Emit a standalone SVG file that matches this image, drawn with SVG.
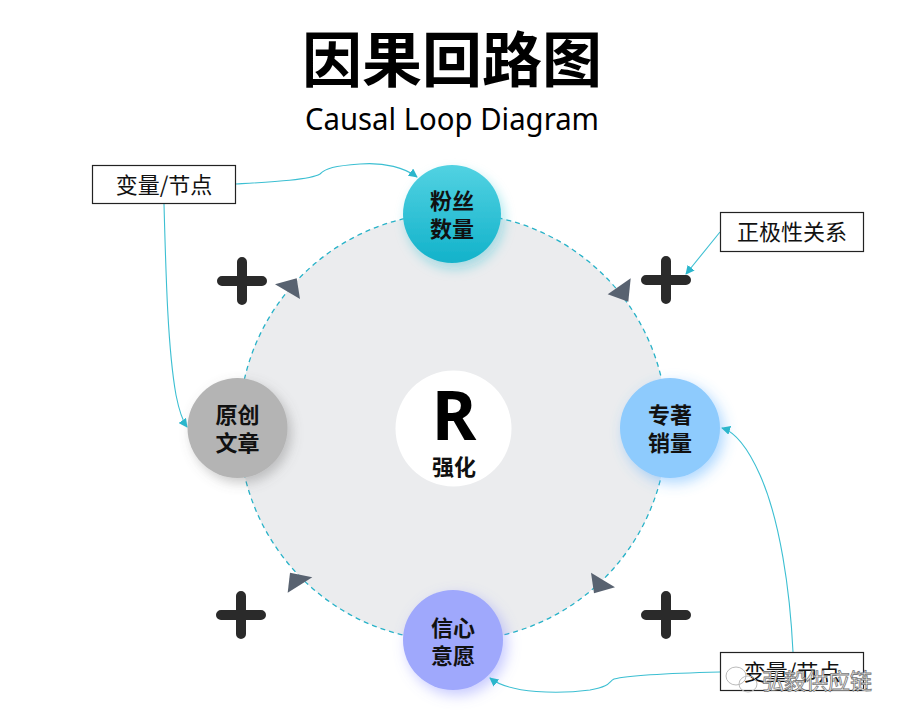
<svg xmlns="http://www.w3.org/2000/svg" width="906" height="721" viewBox="0 0 906 721">
<style>
.cjk{font-family:"Noto Sans CJK SC","Noto Sans",sans-serif}
.node{font-family:"Noto Sans CJK SC",sans-serif;font-weight:bold;font-size:22px;fill:#111;text-anchor:middle}
.box{fill:#fff;stroke:#222;stroke-width:1.2}
.boxt{font-family:"Noto Sans CJK SC",sans-serif;font-size:22px;fill:#111;text-anchor:middle}
.conn{fill:none;stroke:#3cbfd2;stroke-width:1.1}
.plus{stroke:#2a2a2a;stroke-width:10;stroke-linecap:round}
.tri{fill:#586270}
</style>
<defs>
<linearGradient id="gTeal" x1="0" y1="0" x2="0" y2="1">
<stop offset="0" stop-color="#52d2e2"/>
<stop offset="1" stop-color="#12b2ca"/>
</linearGradient>
<filter id="shTeal" x="-50%" y="-50%" width="200%" height="200%"><feDropShadow dx="3" dy="6" stdDeviation="6" flood-color="#20b8cf" flood-opacity="0.35"/></filter>
<filter id="shBlue" x="-50%" y="-50%" width="200%" height="200%"><feDropShadow dx="4" dy="5" stdDeviation="7" flood-color="#4aa8ff" flood-opacity="0.45"/></filter>
<filter id="shLav" x="-50%" y="-50%" width="200%" height="200%"><feDropShadow dx="4" dy="5" stdDeviation="7" flood-color="#8088ff" flood-opacity="0.45"/></filter>
<filter id="shGray" x="-50%" y="-50%" width="200%" height="200%"><feDropShadow dx="4" dy="5" stdDeviation="6" flood-color="#666" flood-opacity="0.35"/></filter>
<marker id="arr" viewBox="0 0 10 10" refX="9" refY="5" markerWidth="9" markerHeight="9" markerUnits="userSpaceOnUse" orient="auto"><path d="M0,0 L10,5 L0,10 z" fill="#2bb6cc"/></marker>
</defs>
<rect width="906" height="721" fill="#fff"/>
<g id="title">
<text x="452" y="82" class="cjk" font-size="60" font-weight="bold" text-anchor="middle" fill="#000">因果回路图</text>
<text x="452" y="130" font-family="Noto Sans, sans-serif" font-size="31" text-anchor="middle" fill="#000" textLength="294" lengthAdjust="spacingAndGlyphs">Causal Loop Diagram</text>
</g>
<g id="loop">
<circle cx="453" cy="427" r="214" fill="#ebecee" stroke="#27b2c8" stroke-width="1.3" stroke-dasharray="5,4"/>
<polygon class="tri" points="275,284.3 296.7,278.3 300,299"/>
<polygon class="tri" points="607.7,294.3 630.7,278.3 628.3,301.7"/>
<polygon class="tri" points="290,572.7 312.3,577.3 287.7,592.7"/>
<polygon class="tri" points="591,572.7 615,587.3 594,593.3"/>
</g>
<g id="plus-signs">
<path class="plus" d="M222,281 H262 M242,262 V300"/>
<path class="plus" d="M646,280 H686 M666,261 V299"/>
<path class="plus" d="M221,615 H261 M241,596 V634"/>
<path class="plus" d="M646,615 H686 M666,596 V634"/>
</g>
<g id="node-center">
<circle cx="453.5" cy="428.5" r="58" fill="#fff"/>
<text x="454" y="440" font-family="Noto Sans, sans-serif" font-weight="bold" font-size="68" text-anchor="middle" fill="#000">R</text>
<text x="454" y="475" class="node" font-size="19">强化</text>
</g>
<g id="node-fans">
<circle cx="452" cy="214" r="49" fill="url(#gTeal)" filter="url(#shTeal)"/>
<text x="452" y="209" class="node">粉丝</text>
<text x="452" y="237" class="node">数量</text>
</g>
<g id="node-sales">
<circle cx="670" cy="428" r="50" fill="#8ecbfd" filter="url(#shBlue)"/>
<text x="670" y="423" class="node">专著</text>
<text x="670" y="451" class="node">销量</text>
</g>
<g id="node-will">
<circle cx="453" cy="640" r="50" fill="#9fa8fc" filter="url(#shLav)"/>
<text x="453" y="636" class="node">信心</text>
<text x="453" y="664" class="node">意愿</text>
</g>
<g id="node-article">
<circle cx="237.5" cy="428" r="50" fill="#b4b4b4" filter="url(#shGray)"/>
<text x="237.5" y="423" class="node">原创</text>
<text x="237.5" y="451" class="node">文章</text>
</g>
<g id="connectors">
<path class="conn" marker-end="url(#arr)" d="M236,184 C270,182 310,180 320,174 C326,168 334,166 360,164 C385,162 405,168 417,177"/>
<path class="conn" marker-end="url(#arr)" d="M164,204 C166,280 168,350 176,395 C179,410 182,420 187,427"/>
<path class="conn" marker-end="url(#arr)" d="M720,232 L686,274"/>
<path class="conn" marker-end="url(#arr)" d="M793,652 C790,590 780,520 760,475 C748,448 735,432 722,428"/>
<path class="conn" marker-end="url(#arr)" d="M720,672 C680,673 630,675 614,679 C608,682 612,686 590,690 C560,694 510,694 490,678"/>
</g>
<g id="label-var1">
<rect class="box" x="92.5" y="165.5" width="143" height="38"/>
<text x="164" y="193" class="boxt">变量/节点</text>
</g>
<g id="label-pos">
<rect class="box" x="720.5" y="212.5" width="143" height="39"/>
<text x="792" y="240" class="boxt">正极性关系</text>
</g>
<g id="label-var2">
<rect class="box" x="720.5" y="652.5" width="143" height="38"/>
<text x="792" y="680" class="boxt">变量/节点</text>
</g>
<g id="watermark">
<ellipse cx="736" cy="676" rx="10" ry="9" fill="none" stroke="#bbb" stroke-width="1"/>
<ellipse cx="748" cy="684" rx="9" ry="8" fill="none" stroke="#bbb" stroke-width="1"/>
<text x="762" y="689" class="cjk" font-size="22" fill="#fff" stroke="#777" stroke-width="0.8">弘毅供应链</text>
</g>
</svg>
